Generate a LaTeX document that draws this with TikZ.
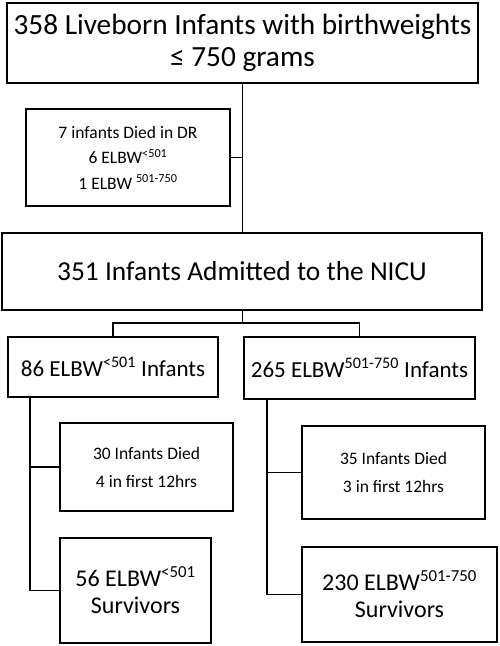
\documentclass[tikz,border=0pt]{standalone}
\usepackage{fontspec}
\setmainfont{Carlito}
\tikzset{
  box/.style={draw=black, line width=1.8pt, rectangle, inner sep=0pt, align=center, fill=white},
  conn/.style={draw=black, line width=1.8pt},
}
\newcommand{\fs}[2]{\fontsize{#1}{#2}\selectfont}
\begin{document}
\begin{tikzpicture}[x=1pt,y=-1pt]
\useasboundingbox[fill=white] (0,0) rectangle (500,646);
\node[box, minimum width=471pt, minimum height=80pt, font=\fs{29.3}{32}] (top) at (242.5,43) {358 Liveborn Infants with birthweights\\≤ 750 grams};
\node[box, minimum width=204pt, minimum height=97pt, font=\fs{17.5}{25.5}] (dr) at (128,157.5) {7 infants Died in DR\\6 ELBW\textsuperscript{<501}\\1 ELBW \textsuperscript{501-750}};
\node[box, minimum width=480pt, minimum height=77pt, font=\fs{27.4}{30}] (nicu) at (242,271.5) {351 Infants Admitted to the NICU};
\node[box, minimum width=210pt, minimum height=60pt, font=\fs{23}{26}] (lb) at (113,367) {86 ELBW\textsuperscript{<501} Infants};
\node[box, minimum width=231pt, minimum height=62pt, font=\fs{23}{26}] (rb) at (359.5,368) {265 ELBW\textsuperscript{501-750} Infants};
\node[box, minimum width=173pt, minimum height=88pt, font=\fs{17.5}{28}] (d1) at (146.5,467) {30 Infants Died\\4 in first 12hrs};
\node[box, minimum width=151pt, minimum height=105pt, font=\fs{24}{27}] (s1) at (135.5,590.5) {56 ELBW\textsuperscript{<501}\\Survivors};
\node[box, minimum width=183pt, minimum height=93pt, font=\fs{17.5}{28}] (d2) at (393.5,472.5) {35 Infants Died\\3 in first 12hrs};
\node[box, minimum width=195pt, minimum height=95pt, font=\fs{24}{27}] (s2) at (399.5,594.5) {230 ELBW\textsuperscript{501-750}\\Survivors};
\coordinate (split) at (242.5,323);
\coordinate (ls) at (30,397);
\coordinate (rs) at (267,399);
\draw[conn] (top.south) -- (top.south |- nicu.north);
\draw[conn] (dr.east) -- (dr.east -| top.south);
\draw[conn] (nicu.south -| split) -- (split);
\draw[conn] (lb.north) |- (split) -| (rb.north);
\draw[conn] (ls) |- (d1.west);
\draw[conn] (ls) |- (s1.west);
\draw[conn] (rs) |- (d2.west);
\draw[conn] (rs) |- (s2.west);
\end{tikzpicture}
\end{document}
